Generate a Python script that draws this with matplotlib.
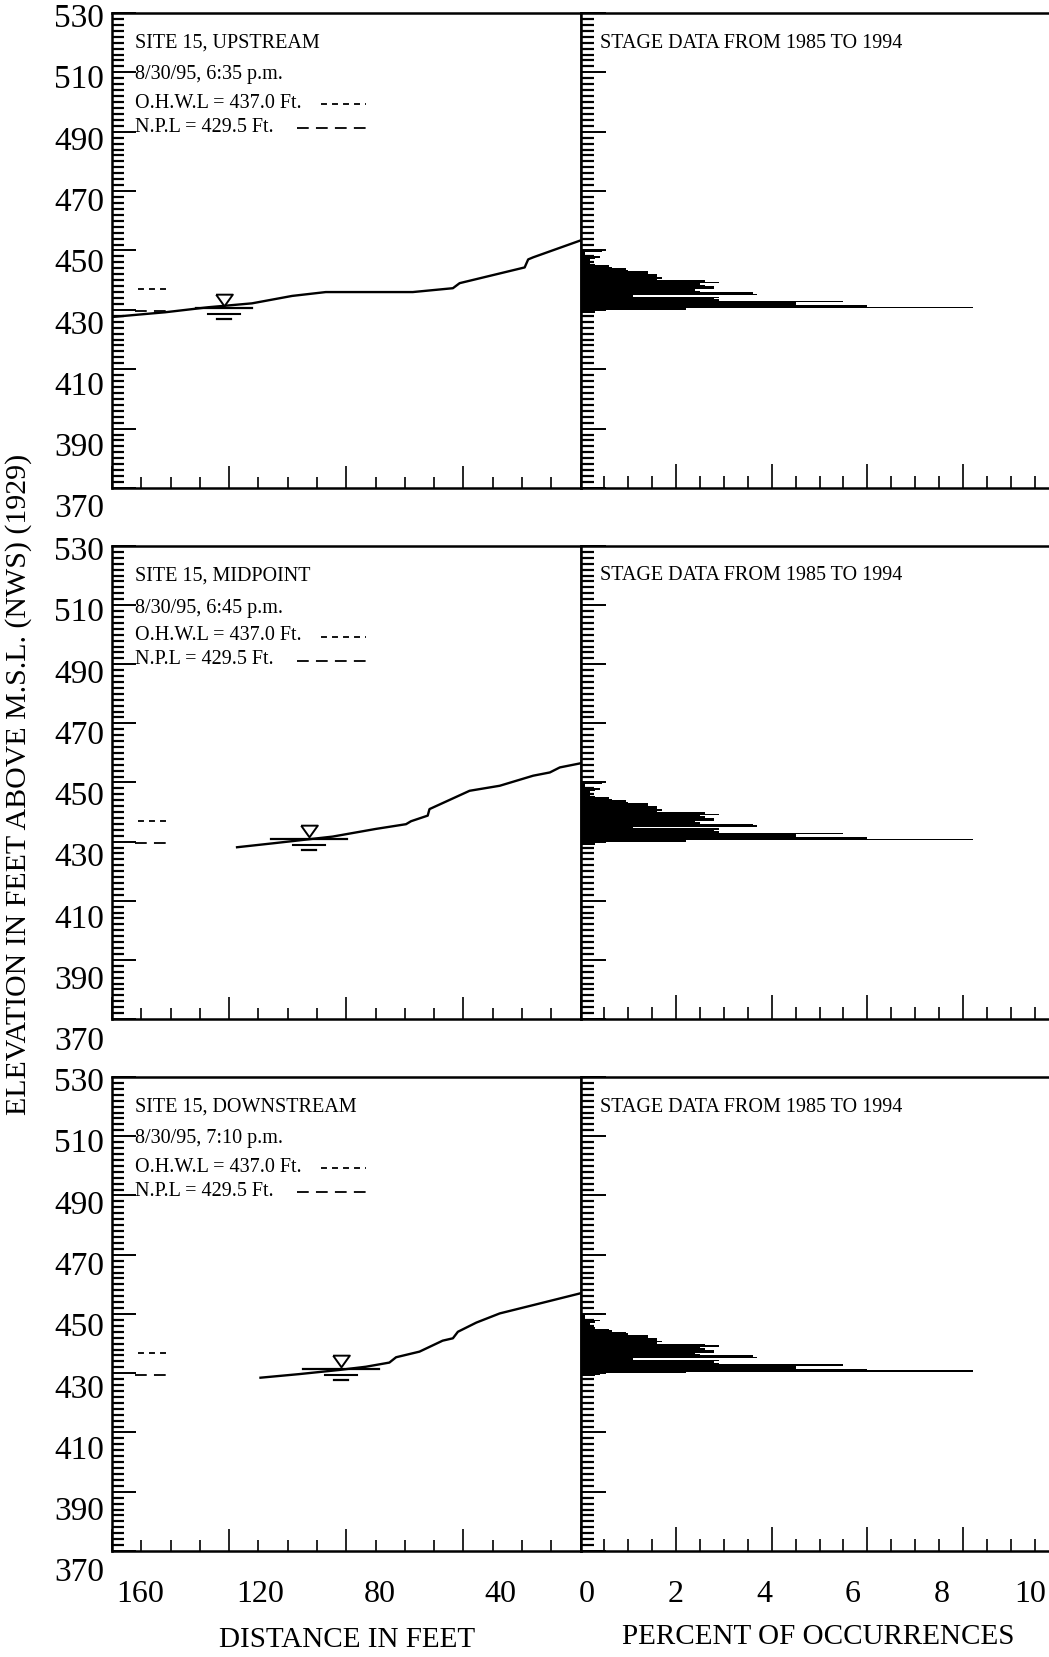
import matplotlib
matplotlib.use("Agg")
import matplotlib.pyplot as plt
from matplotlib.ticker import MultipleLocator
from matplotlib.lines import Line2D
from matplotlib import transforms

plt.rcParams['font.family'] = ['Liberation Serif', 'DejaVu Serif']

# ---------------- data ----------------
sites = ["SITE 15, UPSTREAM", "SITE 15, MIDPOINT", "SITE 15, DOWNSTREAM"]
times = ["8/30/95, 6:35 p.m.", "8/30/95, 6:45 p.m.", "8/30/95, 7:10 p.m."]
stage_title = "STAGE DATA FROM 1985 TO 1994"
ohwl = 437.0
npl = 429.5

up_dist = [160.0, 151.0, 141.8, 127.0, 112.2, 98.5, 87.0, 57.3, 43.6, 41.3, 19.1, 17.9, 16.2, 0.0]
up_elev = [427.6, 428.4, 429.2, 430.9, 432.2, 434.7, 436.0, 436.0, 437.3, 439.0, 444.3, 447.0, 447.7, 453.4]

mid_dist = [117.3, 105.3, 84.7, 69.9, 59.6, 57.9, 52.2, 51.6, 37.9, 27.6, 16.2, 10.5, 7.1, 0.0]
mid_elev = [428.1, 429.4, 431.7, 434.3, 435.9, 436.9, 438.8, 441.0, 447.2, 448.9, 452.3, 453.4, 455.1, 456.5]

down_dist = [109.3, 96.2, 82.5, 73.3, 65.3, 63.0, 55.0, 47.1, 43.6, 41.9, 35.6, 27.6, 16.2, 0.0]
down_elev = [428.5, 429.7, 431.1, 432.2, 433.6, 435.4, 437.3, 441.0, 441.8, 444.0, 447.1, 450.2, 453.0, 457.0]

profiles = [(up_dist, up_elev), (mid_dist, mid_elev), (down_dist, down_elev)]

# water surface on survey date (distance of symbol, elevation)
water_dist = [121.8, 92.7, 81.9]
water_elev = [430.6, 430.9, 431.3]

# stage histogram (lower edge of 0.5 ft bins, percent of occurrences)
stage_elev = [429.0, 429.5, 430.0, 430.5, 431.0, 431.5, 432.0, 432.5, 433.0, 433.5,
              434.0, 434.5, 435.0, 435.5, 436.0, 436.5, 437.0, 437.5, 438.0, 438.5,
              439.0, 439.5, 440.0, 440.5, 441.0, 441.5, 442.0, 442.5, 443.0, 443.5,
              444.0, 444.5, 445.0, 445.5, 446.0, 446.5, 447.0, 447.5, 448.0, 448.5,
              449.0, 449.5, 450.0]
stage_pct = [0.3, 0.4, 2.2, 8.2, 6.0, 4.5, 4.5, 5.5, 2.9, 2.8,
             2.9, 1.1, 3.7, 3.6, 2.5, 2.4, 2.8, 2.8, 2.6, 2.5,
             2.9, 2.6, 1.6, 1.7, 1.6, 1.6, 1.4, 1.4, 1.0, 0.95,
             0.65, 0.6, 0.3, 0.2, 0.2, 0.2, 0.3, 0.4, 0.1, 0.1,
             0.1, 0.45, 0.45]

elev_ticklabels = [530, 510, 490, 470, 450, 430, 410, 390, 370]
dist_ticklabels = [160, 120, 80, 40]
pct_ticklabels = [0, 2, 4, 6, 8, 10]

# ---------------- layout (pixels) ----------------
W, H = 1049, 1657
fig = plt.figure(figsize=(W / 100, H / 100), dpi=100)


def fx(px):
    return px / W


def fy(py):
    return 1 - py / H


panel_tops = [13, 546, 1077]
panel_bots = [488, 1019, 1551]
x_left, x_div, x_right = 112, 580.6, 1049
wl_half = [9.5, 12.9, 12.9]  # half-length of water line (ft)
tri = [(-1, 0.7), (1, 0.7), (0, -0.7), (-1, 0.7)]
short_dash = (0, (3.3, 2.8))
long_dash = (0, (6.5, 4.0))

for i in range(3):
    top, bot = panel_tops[i], panel_bots[i]
    hh = (bot - top) / H
    axL = fig.add_axes([fx(x_left), fy(bot), fx(x_div - x_left), hh])
    axR = fig.add_axes([fx(x_div), fy(bot), fx(x_right - x_div), hh])

    # ---- left: cross-section ----
    axL.set_xlim(160, 0)
    axL.set_ylim(370, 530)
    d, e = profiles[i]
    axL.plot([151, 141.4], [ohwl, ohwl], color='black', lw=1.3, ls=short_dash, zorder=2)
    axL.plot([152, 141.4], [npl, npl], color='black', lw=1.3, ls=long_dash, zorder=2)
    axL.plot(d, e, color='black', lw=1.7, zorder=3)

    wd, we = water_dist[i], water_elev[i]
    axL.plot([wd - wl_half[i], wd + wl_half[i]], [we, we], color='black', lw=1.6, zorder=4)
    off2 = transforms.offset_copy(axL.transData, fig=fig, x=0, y=-6, units='dots')
    axL.plot([wd - 5.5, wd + 5.5], [we, we], color='black', lw=1.5, transform=off2, zorder=4)
    off3 = transforms.offset_copy(axL.transData, fig=fig, x=0, y=-11, units='dots')
    axL.plot([wd - 2.4, wd + 2.4], [we, we], color='black', lw=1.6, transform=off3, zorder=4)
    offt = transforms.offset_copy(axL.transData, fig=fig, x=0, y=8, units='dots')
    axL.plot([wd], [we], marker=tri, ms=12, mfc='white', mec='black', mew=1.4,
             transform=offt, zorder=5, ls='none')

    axL.xaxis.set_major_locator(MultipleLocator(40))
    axL.xaxis.set_minor_locator(MultipleLocator(10))
    axL.yaxis.set_major_locator(MultipleLocator(20, offset=10))
    axL.yaxis.set_minor_locator(MultipleLocator(2))
    axL.tick_params(which='both', direction='in', top=False, right=False,
                    labelbottom=False, labelleft=False, color='black')
    axL.tick_params(axis='x', which='major', length=16, width=1.2)
    axL.tick_params(axis='x', which='minor', length=8, width=1.2)
    axL.tick_params(axis='y', which='major', length=17, width=1.4)
    axL.tick_params(axis='y', which='minor', length=8.5, width=1.6)
    for s in axL.spines.values():
        s.set_linewidth(1.8)

    # ---- right: stage histogram ----
    axR.set_xlim(0, 9.8)
    axR.set_ylim(370, 530)
    axR.barh(stage_elev, stage_pct, height=0.5, align='edge', color='black', linewidth=0)
    axR.xaxis.set_major_locator(MultipleLocator(2))
    axR.xaxis.set_minor_locator(MultipleLocator(0.5))
    axR.yaxis.set_major_locator(MultipleLocator(20, offset=10))
    axR.yaxis.set_minor_locator(MultipleLocator(2))
    axR.tick_params(which='both', direction='in', top=False, right=False,
                    labelbottom=False, labelleft=False, color='black')
    axR.tick_params(axis='x', which='major', length=17, width=1.2)
    axR.tick_params(axis='x', which='minor', length=8.5, width=1.2)
    axR.tick_params(axis='y', which='major', length=18, width=1.4)
    axR.tick_params(axis='y', which='minor', length=9, width=1.6)
    axR.spines['right'].set_visible(False)
    for s in ['top', 'bottom', 'left']:
        axR.spines[s].set_linewidth(1.8)

    # ---- panel annotations ----
    fs = 14.5
    fig.text(fx(135), fy(top + 30), sites[i], va='center', fontsize=fs)
    fig.text(fx(135), fy(top + 62), times[i], va='center', fontsize=fs)
    fig.text(fx(135), fy(top + 90), f"O.H.W.L = {ohwl:.1f} Ft.", va='center', fontsize=fs)
    fig.text(fx(135), fy(top + 114), f"N.P.L = {npl:.1f} Ft.", va='center', fontsize=fs)
    fig.add_artist(Line2D([fx(321), fx(366)], [fy(top + 91)] * 2, color='black',
                          lw=1.3, ls=short_dash))
    fig.add_artist(Line2D([fx(297), fx(366)], [fy(top + 115)] * 2, color='black',
                          lw=1.3, ls=long_dash))
    fig.text(fx(600), fy(top + 30), stage_title, va='center', fontsize=fs)

    # ---- elevation labels ----
    for v in elev_ticklabels:
        fig.text(fx(104), fy(top + 6 + (530 - v) * 3.0625), str(v),
                 ha='right', va='center', fontsize=24)

# ---- bottom tick labels ----
for v in dist_ticklabels:
    fig.text(fx(140 + (160 - v) * 3.0), fy(1595), str(v), ha='center', va='center', fontsize=23)
for v in pct_ticklabels:
    fig.text(fx(587 + 44.3 * v), fy(1595), str(v), ha='center', va='center', fontsize=23)

fig.text(fx(347), fy(1640), "DISTANCE IN FEET", ha='center', va='center', fontsize=21)
fig.text(fx(818), fy(1637), "PERCENT OF OCCURRENCES", ha='center', va='center', fontsize=21)
fig.text(fx(19), fy(784), "ELEVATION IN FEET ABOVE M.S.L. (NWS) (1929)", rotation=90,
         ha='center', va='center', fontsize=21.5)

fig.savefig("out.png", dpi=100)
